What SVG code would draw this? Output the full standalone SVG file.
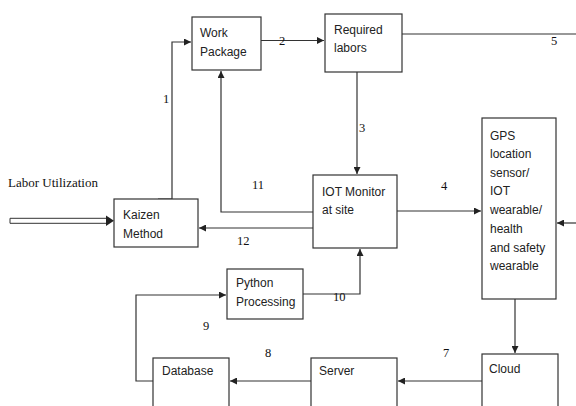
<svg xmlns="http://www.w3.org/2000/svg" width="576" height="406" viewBox="0 0 576 406">
<style>
.box{fill:#fff;stroke:#333;stroke-width:1.2}
.t{font-family:"Liberation Sans",Arial,sans-serif;font-size:12px;fill:#222}
.n{font-family:"Liberation Serif","Times New Roman",serif;font-size:12.5px;fill:#111}
.c{fill:none;stroke:#333;stroke-width:1.2}
</style>
<defs>
<marker id="ah" viewBox="0 0 10 10" refX="10" refY="5" markerWidth="7" markerHeight="7" markerUnits="userSpaceOnUse" orient="auto">
<path d="M0,0 L10,5 L0,10 z" fill="#222"/>
</marker>
</defs>
<rect width="576" height="406" fill="#fff"/>
<g id="connectors">
<path class="c" d="M158,199 H172 V42 H191" marker-end="url(#ah)"/>
<path class="c" d="M261,40.5 H324" marker-end="url(#ah)"/>
<path class="c" d="M402,34 H576"/>
<path class="c" d="M357,72 V174" marker-end="url(#ah)"/>
<path class="c" d="M313,212 H221 V71" marker-end="url(#ah)"/>
<path class="c" d="M313,228 H199" marker-end="url(#ah)"/>
<path class="c" d="M397,211 H481" marker-end="url(#ah)"/>
<path class="c" d="M576,223 H557" marker-end="url(#ah)"/>
<path class="c" d="M515,299 V353" marker-end="url(#ah)"/>
<path class="c" d="M482,381 H398" marker-end="url(#ah)"/>
<path class="c" d="M311,381 H230" marker-end="url(#ah)"/>
<path class="c" d="M153,381 H136 V295 H226" marker-end="url(#ah)"/>
<path class="c" d="M303,294 H360 V249" marker-end="url(#ah)"/>
<path d="M10,218.3 H106 M10,223.3 H106 M10,218.3 V223.3" fill="none" stroke="#333" stroke-width="1"/>
<path d="M106,215.5 L114,220.8 L106,226 z" fill="#222"/>
<text class="n" x="163" y="103">1</text>
<text class="n" x="279" y="45">2</text>
<text class="n" x="359" y="132">3</text>
<text class="n" x="441" y="190">4</text>
<text class="n" x="551" y="45">5</text>
<text class="n" x="443" y="357">7</text>
<text class="n" x="265" y="357">8</text>
<text class="n" x="203" y="330">9</text>
<text class="n" x="333" y="301">10</text>
<text class="n" x="252" y="189">11</text>
<text class="n" x="237" y="245">12</text>
<text class="n" x="8" y="187" style="font-size:13px">Labor Utilization</text>
</g>
<g id="work-package"><rect class="box" x="192" y="17" width="69" height="53"/><text class="t" x="200" y="37">Work</text><text class="t" x="200" y="56">Package</text></g>
<g id="required-labors"><rect class="box" x="325" y="14" width="77" height="58"/><text class="t" x="334" y="34">Required</text><text class="t" x="334" y="52">labors</text></g>
<g id="iot-monitor"><rect class="box" x="313" y="175" width="84" height="73"/><text class="t" x="322" y="196">IOT Monitor</text><text class="t" x="322" y="214">at site</text></g>
<g id="gps"><rect class="box" x="482" y="118" width="74" height="181"/>
<text class="t" x="490" y="140">GPS</text><text class="t" x="490" y="158">location</text><text class="t" x="490" y="177">sensor/</text><text class="t" x="490" y="195">IOT</text><text class="t" x="490" y="214">wearable/</text><text class="t" x="490" y="233">health</text><text class="t" x="490" y="252">and safety</text><text class="t" x="490" y="270">wearable</text></g>
<g id="kaizen"><rect class="box" x="114" y="199" width="84" height="48"/><text class="t" x="123" y="219">Kaizen</text><text class="t" x="123" y="238">Method</text></g>
<g id="python"><rect class="box" x="227" y="269" width="76" height="50"/><text class="t" x="236" y="287">Python</text><text class="t" x="236" y="306">Processing</text></g>
<g id="database"><rect class="box" x="153" y="358" width="76" height="60"/><text class="t" x="162" y="375">Database</text></g>
<g id="server"><rect class="box" x="311" y="358" width="86" height="60"/><text class="t" x="319" y="375">Server</text></g>
<g id="cloud"><rect class="box" x="482" y="354" width="76" height="64"/><text class="t" x="489" y="373">Cloud</text></g>
</svg>
